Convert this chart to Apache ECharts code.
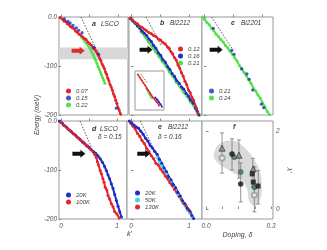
<!DOCTYPE html>
<html><head><meta charset="utf-8">
<script src="https://cdn.jsdelivr.net/npm/echarts@6/dist/echarts.min.js"></script>
<style>html,body{margin:0;padding:0;background:#fff}#c{width:327px;height:250px}</style>
</head><body><div id="c"></div>
<script>
// ---------- data (k', energy in meV) ----------
const aRed = [[-0.02,-1],[0.02,-4],[0.05,-8],[0.08,-9],[0.11,-14],[0.14,-15],[0.17,-20],[0.20,-22],[0.23,-24],[0.26,-29],[0.29,-31],[0.32,-35],[0.35,-37],[0.38,-41],[0.41,-44],[0.44,-46],[0.47,-51],[0.50,-54],[0.53,-57],[0.56,-63],[0.59,-66],[0.62,-71],[0.64,-75],[0.66,-79],[0.68,-85],[0.70,-89],[0.72,-96],[0.74,-100],[0.76,-105],[0.78,-112],[0.80,-117],[0.82,-125],[0.84,-130],[0.86,-138],[0.88,-143],[0.90,-149],[0.92,-157],[0.94,-162],[0.96,-170],[0.98,-176],[1.00,-185],[1.02,-190],[1.04,-197],[1.06,-201]];
const aGreen = [[0.36,-41],[0.39,-45],[0.42,-50],[0.45,-54],[0.48,-59],[0.51,-64],[0.53,-69],[0.55,-74],[0.57,-78],[0.59,-84],[0.61,-89],[0.63,-95],[0.65,-101],[0.67,-106],[0.69,-112],[0.71,-118],[0.73,-124],[0.75,-129],[0.77,-135]];
const aBlue = [[0.06,-4],[0.12,-9],[0.16,-12],[0.21,-17],[0.27,-22],[0.31,-27],[0.37,-32],[0.58,-62],[0.66,-76],[0.97,-186]];
const aBare = [[0.35,0],[0.66,-76]];
const aBand = [-62,-86];
const aArrow = [0.30,-69];

const bRed = [[-0.02,-2],[0.03,-6],[0.07,-11],[0.11,-14],[0.15,-19],[0.19,-21],[0.23,-25],[0.27,-28],[0.31,-32],[0.35,-34],[0.39,-38],[0.43,-40],[0.47,-45],[0.51,-47],[0.55,-52],[0.59,-55],[0.63,-61],[0.66,-64],[0.69,-71],[0.72,-75],[0.75,-83],[0.78,-88],[0.81,-98],[0.84,-104],[0.87,-114],[0.90,-121],[0.93,-131],[0.96,-138],[0.99,-149],[1.02,-154],[1.05,-164],[1.08,-170],[1.11,-181],[1.13,-186],[1.15,-196]];
const bBlue = [[-0.01,-3],[0.03,-8],[0.07,-12],[0.11,-18],[0.15,-22],[0.19,-29],[0.23,-33],[0.27,-38],[0.31,-45],[0.35,-50],[0.39,-58],[0.43,-64],[0.47,-73],[0.51,-78],[0.55,-87],[0.59,-92],[0.63,-101],[0.67,-107],[0.71,-116],[0.75,-121],[0.79,-130],[0.83,-135],[0.87,-143],[0.91,-147],[0.95,-156],[0.99,-161],[1.03,-170],[1.07,-176],[1.11,-186],[1.14,-192],[1.17,-200]];
const bGreen = [[0.00,-5],[0.06,-12],[0.12,-20],[0.18,-31],[0.24,-40],[0.30,-51],[0.36,-60],[0.42,-71],[0.48,-80],[0.54,-91],[0.60,-100],[0.66,-112],[0.72,-121],[0.78,-133],[0.84,-141],[0.90,-153],[0.96,-161],[1.02,-173],[1.08,-181],[1.14,-193],[1.19,-200]];
const bBare = [[0.26,0],[0.52,-58]];
const bArrow = [0.26,-67];

const insetRed = [[0.06,-0.05],[0.13,-0.13],[0.20,-0.21],[0.27,-0.29],[0.34,-0.36],[0.40,-0.44],[0.46,-0.50],[0.52,-0.57],[0.57,-0.63],[0.63,-0.70],[0.69,-0.75],[0.75,-0.80],[0.80,-0.84],[0.86,-0.92]];
const insetBlue = [[0.72,-0.70],[0.80,-0.76],[0.86,-0.83],[0.92,-0.89],[0.97,-0.96]];
const insetGreen = [[0.38,-0.44],[0.42,-0.50],[0.46,-0.56],[0.50,-0.62],[0.54,-0.67],[0.57,-0.71]];
const insetBare = [[0.17,-0.04],[0.40,-0.27]];

const cGreen = [[-0.03,0],[0.01,-5],[0.05,-11],[0.09,-16],[0.13,-23],[0.17,-28],[0.21,-35],[0.25,-40],[0.29,-46],[0.33,-51],[0.37,-58],[0.41,-63],[0.45,-70],[0.49,-76],[0.53,-83],[0.57,-90],[0.61,-99],[0.65,-105],[0.69,-113],[0.73,-120],[0.77,-128],[0.81,-135],[0.85,-145],[0.89,-151],[0.93,-159],[0.97,-166],[1.01,-175],[1.05,-183],[1.09,-193],[1.13,-199]];
const cBlue = [[0.16,-23],[0.48,-68],[0.52,-76],[0.65,-106],[0.74,-116],[0.78,-127],[0.84,-149],[0.99,-178],[1.03,-185]];
const cBare = [[0.13,0],[0.50,-67]];
const cArrow = [0.21,-67];

const dBlue = [[-0.03,0],[0.02,-4],[0.06,-9],[0.10,-13],[0.14,-18],[0.18,-21],[0.22,-26],[0.26,-29],[0.30,-34],[0.34,-38],[0.38,-43],[0.42,-46],[0.46,-51],[0.50,-54],[0.54,-58],[0.58,-62],[0.62,-66],[0.66,-71],[0.70,-77],[0.74,-84],[0.78,-93],[0.81,-101],[0.84,-110],[0.87,-118],[0.90,-128],[0.93,-138],[0.96,-150],[0.99,-162],[1.02,-174],[1.05,-185],[1.08,-196]];
const dRed = [[-0.04,1],[0.00,-3],[0.04,-8],[0.08,-11],[0.12,-16],[0.16,-19],[0.20,-24],[0.24,-27],[0.28,-32],[0.32,-35],[0.36,-40],[0.40,-43],[0.44,-48],[0.48,-51],[0.52,-57],[0.56,-61],[0.60,-68],[0.63,-74],[0.65,-83],[0.67,-90],[0.70,-101],[0.72,-107],[0.75,-118],[0.77,-125],[0.79,-135],[0.82,-141],[0.84,-152],[0.87,-159],[0.90,-169],[0.93,-175],[0.96,-185],[1.00,-190],[1.04,-198]];
const dBare = [[0.34,0],[0.55,-56]];
const dArrow = [0.32,-67];

const eBlue = [[-0.03,0],[0.01,-4],[0.05,-8],[0.09,-12],[0.13,-15],[0.17,-21],[0.21,-27],[0.25,-35],[0.29,-41],[0.33,-50],[0.37,-55],[0.41,-62],[0.45,-68],[0.49,-78],[0.53,-86],[0.57,-96],[0.61,-103],[0.65,-114],[0.69,-120],[0.73,-130],[0.77,-136],[0.81,-146],[0.85,-153],[0.89,-163],[0.93,-169],[0.97,-178],[1.01,-183],[1.05,-193],[1.08,-199]];
const eCyan = [[0.45,-74],[0.49,-83],[0.53,-91],[0.57,-101],[0.61,-108],[0.65,-118],[0.69,-124],[0.73,-134],[0.77,-140],[0.81,-151],[0.85,-157],[0.89,-167],[0.93,-173],[0.97,-182],[1.01,-187],[1.05,-196]];
const eRed = [[-0.01,-4],[0.03,-10],[0.07,-16],[0.11,-25],[0.15,-31],[0.19,-40],[0.23,-46],[0.27,-56],[0.31,-62],[0.35,-71],[0.39,-77],[0.43,-86],[0.47,-90],[0.51,-98],[0.55,-104],[0.59,-112],[0.63,-118],[0.67,-126],[0.71,-132],[0.75,-140],[0.79,-146],[0.83,-154],[0.87,-160],[0.91,-168],[0.95,-173],[0.99,-180],[1.03,-186]];
const eBare = [[0.16,0],[0.37,-52]];
const eArrow = [0.22,-67];

// panel f: doping vs lambda'
const fTriangles = [[0.074,1.56],[0.152,1.38],[0.218,1.03]];
const fBlackCircles = [[0.12,1.41],[0.16,0.64]];
const fTealCircles = [[0.13,1.33],[0.16,0.95],[0.223,0.56]];
const fSquares = [[0.213,0.90],[0.218,0.69],[0.24,0.59]];
const fOpenCircles = [[0.074,1.31],[0.223,0.36]];
const fErrorBars = [[0.074,0.92,1.95],[0.12,1.0,1.8],[0.152,0.79,1.77],[0.16,0.18,1.18],[0.216,0.57,1.30],[0.223,-0.07,1.08],[0.241,0.13,0.99]];
const fBlob = [[0.037,1.43],[0.065,1.68],[0.126,1.75],[0.172,1.60],[0.218,1.30],[0.249,0.96],[0.257,0.57],[0.249,0.23],[0.226,0.08],[0.200,0.19],[0.188,0.53],[0.157,0.79],[0.111,0.98],[0.065,1.13],[0.042,1.26]];

const kTicks = [0,0.5,1];
const kLabels = [0,1];
const eTicks = [-200,-100,0];
const fXTicks = [0,0.075,0.15,0.225,0.3];
const fXLabels = [0,0.3];
const fYTicks = [0,2];

// ---------- styling ----------
const RED='#e3262b', BLUE='#1d2ec4', GREEN='#55e04a', CYAN='#44d8ef';
const FONT='Liberation Sans';
const ARROW='path://M0,2 L8,2 L8,0 L13,4 L8,8 L8,6 L0,6 Z';

const panels = [
  {left:59, top:17, width:69, height:98, xmin:-0.035, xmax:1.175, xl:false, yl:true},
  {left:129, top:17, width:73, height:98, xmin:-0.034, xmax:1.224, xl:false, yl:false},
  {left:202, top:17, width:71, height:98, xmin:-0.034, xmax:1.19, xl:false, yl:false},
  {left:59, top:121, width:68, height:98, xmin:-0.036, xmax:1.18, xl:true, yl:true},
  {left:127, top:121, width:75, height:98, xmin:-0.069, xmax:1.224, xl:true, yl:false}
];

const grids=[], xAxes=[], yAxes=[], series=[];
const lblStyle = {fontSize:6.5, fontStyle:'italic', color:'#555', fontFamily:FONT};
panels.forEach((p,i)=>{
  grids.push({left:p.left, top:p.top, width:p.width, height:p.height, show:true, borderColor:'#999', borderWidth:1, backgroundColor:'#fff'});
  xAxes.push({type:'value', gridIndex:i, min:p.xmin, max:p.xmax, axisLine:{show:false}, splitLine:{show:false},
    axisTick:{show:true, inside:true, length:2.5, customValues:kTicks, lineStyle:{color:'#888'}},
    axisLabel:Object.assign({show:p.xl, customValues:kLabels, margin:4, formatter:v=>String(v)}, lblStyle)});
  yAxes.push({type:'value', gridIndex:i, min:-200, max:0, interval:100, axisLine:{show:false}, splitLine:{show:false},
    axisTick:{show:true, inside:!p.yl, length:2.5, lineStyle:{color:'#888'}},
    axisLabel:Object.assign({show:p.yl, margin:2, formatter:v=> v===0?'0.0':String(v)}, lblStyle)});
});
// f grid (5)
grids.push({left:202, top:121, width:71, height:98, show:true, borderColor:'#999', borderWidth:1, backgroundColor:'#fff'});
xAxes.push({type:'value', gridIndex:5, min:-0.0185, max:0.309, axisLine:{show:false}, splitLine:{show:false},
  axisTick:{show:true, inside:true, length:2.5, customValues:fXTicks, lineStyle:{color:'#888'}},
  axisLabel:Object.assign({customValues:fXLabels, margin:4, formatter:v=>v.toFixed(1)}, lblStyle),
  name:'Doping, δ', nameLocation:'middle', nameGap:13, nameTextStyle:{fontSize:7, fontStyle:'italic', color:'#444', fontFamily:FONT}});
yAxes.push({type:'value', gridIndex:5, position:'right', min:-0.256, max:2.256, axisLine:{show:false}, splitLine:{show:false},
  axisTick:{show:true, inside:false, length:2.5, customValues:fYTicks, lineStyle:{color:'#888'}},
  axisLabel:Object.assign({customValues:fYTicks, margin:3, formatter:v=>String(v)}, lblStyle),
  name:"λ'", nameLocation:'middle', nameGap:12, nameRotate:-90, nameTextStyle:{fontSize:7, fontStyle:'italic', color:'#444', fontFamily:FONT}});
// inset grid (6)
grids.push({left:135, top:71, width:29, height:39, show:true, borderColor:'#999', borderWidth:1, backgroundColor:'#fff', z:5});
xAxes.push({type:'value', gridIndex:6, min:-0.05, max:1.05, axisLine:{show:false}, splitLine:{show:false}, axisLabel:{show:false},
  axisTick:{show:true, inside:true, length:2, customValues:[0,1], lineStyle:{color:'#888'}}});
yAxes.push({type:'value', gridIndex:6, min:-1.05, max:0.05, axisLine:{show:false}, splitLine:{show:false}, axisLabel:{show:false}, axisTick:{show:false}});

function bare(name, data, gi, arrow, arrowColor, extra){
  return Object.assign({type:'line', name, data, xAxisIndex:gi, yAxisIndex:gi, symbol:'none', silent:true,
    lineStyle:{color:'#333', width:0.8, type:[1.5,1.5]}, z:3,
    markPoint: arrow ? {silent:true, symbol:ARROW, symbolSize:[13,8], label:{show:false},
      itemStyle:{color:arrowColor}, data:[{coord:arrow}]} : undefined}, extra||{});
}
function curve(name, data, color, gi, size){
  return {type:'line', name, data, xAxisIndex:gi, yAxisIndex:gi, symbol:'circle', symbolSize:size||3,
    showSymbol:true, itemStyle:{color}, lineStyle:{color, width:size?1.3:2}, z:4, animation:false};
}
function dots(name, data, color, gi){
  return {type:'scatter', name, data, xAxisIndex:gi, yAxisIndex:gi, symbolSize:3.2, itemStyle:{color}, z:6};
}

// panel a
series.push(bare('a-bare', aBare, 0, aArrow, '#e52a2a', {markArea:{silent:true, itemStyle:{color:'#d8d8d8'}, data:[[{yAxis:aBand[0]},{yAxis:aBand[1]}]]}}));
series.push(curve('a|0.22', aGreen, GREEN, 0));
series.push(curve('a|0.07', aRed, RED, 0));
series.push(dots('a|0.15', aBlue, BLUE, 0));
// panel b
series.push(bare('b-bare', bBare, 1, bArrow, '#111'));
series.push(curve('b|0.21', bGreen, GREEN, 1));
series.push(curve('b|0.16', bBlue, BLUE, 1));
series.push(curve('b|0.12', bRed, RED, 1));
// inset
series.push(Object.assign(bare('i-bare', insetBare, 6), {z:8}));
series.push(Object.assign(curve('i-green', insetGreen, GREEN, 6, 2), {z:8}));
series.push(Object.assign(curve('i-red', insetRed, RED, 6, 2), {z:9}));
series.push(Object.assign(curve('i-blue', insetBlue, BLUE, 6, 2), {z:10}));
// panel c
series.push(bare('c-bare', cBare, 2, cArrow, '#111'));
series.push(curve('c|0.24', cGreen, GREEN, 2));
series.push(dots('c|0.21', cBlue, BLUE, 2));
// panel d
series.push(bare('d-bare', dBare, 3, dArrow, '#111'));
series.push(curve('d|20K', dBlue, BLUE, 3));
series.push(curve('d|100K', dRed, RED, 3));
// panel e
series.push(bare('e-bare', eBare, 4, eArrow, '#111'));
series.push(curve('e|50K', eCyan, CYAN, 4));
series.push(curve('e|130K', eRed, RED, 4));
series.push(curve('e|20K', eBlue, BLUE, 4));
// panel f
series.push({type:'custom', name:'blob', xAxisIndex:5, yAxisIndex:5, data:fBlob, silent:true, z:1,
  renderItem:(params, api)=>{
    if (params.dataIndex!==0) return null;
    const pts = fBlob.map(p=>api.coord(p));
    return {type:'polygon', shape:{points:pts, smooth:0.45}, style:{fill:'#dadada'}};
  }});
series.push({type:'custom', name:'errbars', xAxisIndex:5, yAxisIndex:5, data:fErrorBars, silent:true, z:2,
  encode:{x:0, y:[1,2]},
  renderItem:(params, api)=>{
    const x=api.value(0), lo=api.value(1), hi=api.value(2);
    const a=api.coord([x,lo]), b=api.coord([x,hi]);
    const st={stroke:'#777', lineWidth:0.8};
    return {type:'group', children:[
      {type:'line', shape:{x1:a[0],y1:a[1],x2:b[0],y2:b[1]}, style:st},
      {type:'line', shape:{x1:a[0]-2,y1:a[1],x2:a[0]+2,y2:a[1]}, style:st},
      {type:'line', shape:{x1:b[0]-2,y1:b[1],x2:b[0]+2,y2:b[1]}, style:st}]};
  }});
series.push({type:'scatter', name:'f-open', xAxisIndex:5, yAxisIndex:5, data:fOpenCircles, symbol:'emptyCircle', symbolSize:5, itemStyle:{color:'#999', borderWidth:0.8}, z:3});
series.push({type:'scatter', name:'f-tri', xAxisIndex:5, yAxisIndex:5, data:fTriangles, symbol:'triangle', symbolSize:6, itemStyle:{color:'#8a8a8a', borderColor:'#222', borderWidth:0.8}, z:4});
series.push({type:'scatter', name:'f-teal', xAxisIndex:5, yAxisIndex:5, data:fTealCircles, symbol:'circle', symbolSize:5, itemStyle:{color:'#3f7378', borderColor:'#1d3a3c', borderWidth:0.6}, z:4});
series.push({type:'scatter', name:'f-black', xAxisIndex:5, yAxisIndex:5, data:fBlackCircles, symbol:'circle', symbolSize:5.5, itemStyle:{color:'#111'}, z:5});
series.push({type:'scatter', name:'f-sq', xAxisIndex:5, yAxisIndex:5, data:fSquares, symbol:'rect', symbolSize:5, itemStyle:{color:'#111'}, z:5});

const legBase = {orient:'vertical', itemWidth:5, itemHeight:5, itemGap:1, icon:'circle', padding:0,
  textStyle:{fontSize:6, fontStyle:'italic', color:'#444', fontFamily:FONT, lineHeight:6},
  formatter:n=>n.split('|')[1], selectedMode:false};
const legends = [
  Object.assign({data:['a|0.07','a|0.15','a|0.22'], left:66, top:88}, legBase),
  Object.assign({data:['b|0.12','b|0.16','b|0.21'], left:178, top:46}, legBase),
  Object.assign({data:['c|0.21','c|0.24'], left:209, top:88}, legBase),
  Object.assign({data:['d|20K','d|100K'], left:66, top:192}, legBase),
  Object.assign({data:['e|20K','e|50K','e|130K'], left:135, top:190}, legBase)
];

function txt(x,y,text,opt){
  return Object.assign({type:'text', x, y, z:20, style:Object.assign({text, fontSize:6.5, fontStyle:'italic', fill:'#333', fontFamily:FONT, textVerticalAlign:'middle'}, opt||{})});
}
const graphics = [
  txt(92,24,'a',{fontWeight:'bold',fontSize:7}), txt(101,24,'LSCO'),
  txt(160,23,'b',{fontWeight:'bold',fontSize:7}), txt(170,23,'Bi2212'),
  txt(231,23,'c',{fontWeight:'bold',fontSize:7}), txt(241,23,'Bi2201'),
  txt(92,129,'d',{fontWeight:'bold',fontSize:7}), txt(100,129,'LSCO'), txt(98,137,'δ = 0.15'),
  txt(158,127,'e',{fontWeight:'bold',fontSize:7}), txt(168,127,'Bi2212'), txt(158,137,'δ = 0.16'),
  txt(233,127,'f',{fontWeight:'bold',fontSize:7}),
  txt(127,234,"k'",{fontSize:7}),
  {type:'text', x:37, y:115, rotation:Math.PI/2, z:20, style:{text:'Energy (meV)', fontSize:6.5, fontStyle:'italic', fill:'#444', fontFamily:FONT, textAlign:'center', textVerticalAlign:'middle'}}
];

const chart = echarts.init(document.getElementById('c'), null, {renderer:'canvas'});
chart.setOption({animation:false, backgroundColor:'#fff', grid:grids, xAxis:xAxes, yAxis:yAxes, series, legend:legends, graphic:graphics, tooltip:{show:false}});
</script></body></html>
